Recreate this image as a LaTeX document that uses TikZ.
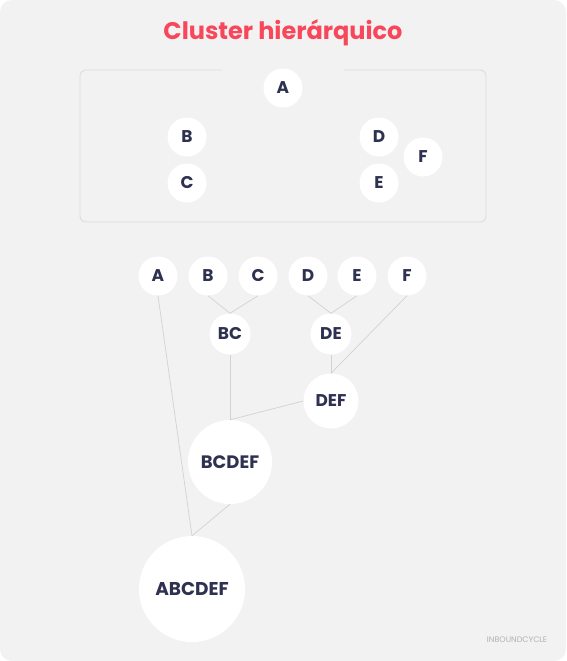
\documentclass[tikz,border=0pt]{standalone}
\usepackage{fontspec}
\setmainfont{Poppins}
\usepackage{xcolor}
\definecolor{panel}{HTML}{F2F2F2}
\definecolor{ink}{HTML}{2E3150}
\definecolor{titlered}{HTML}{F8465A}
\definecolor{edgegray}{HTML}{D2D2D2}
\definecolor{framegray}{HTML}{DCDCDC}
\tikzset{
  point/.style={circle, fill=white, inner sep=0pt, minimum size=39pt,
    text=ink, font=\fontsize{17}{17}\selectfont\bfseries},
  merged/.style={point, minimum size=#1},
  link/.style={draw=edgegray, line width=0.7pt},
}

\begin{document}
\begin{tikzpicture}[x=1pt, y=-1pt]
      % panel and frame
      \useasboundingbox (0,0) rectangle (566,661);
      \fill[panel, rounded corners=12pt] (0,0) rectangle (566,661);
      \draw[framegray, line width=0.9pt, rounded corners=6pt]
        (222,70) -- (80,70) -- (80,222) -- (486,222) -- (486,70) -- (344,70);
      \node (title) at (283,33) [text=titlered, font=\fontsize{24}{24}\selectfont\bfseries]
        {Cluster hierárquico};

      % points in the plane
      \node[point] (pA) at (283,88) {A};
      \node[point] (pB) at (187,137) {B};
      \node[point] (pC) at (187,183) {C};
      \node[point] (pD) at (379,137) {D};
      \node[point] (pE) at (379,183) {E};
      \node[point] (pF) at (423,157) {F};

      % dendrogram
      \node[point] (A) at (158,276) {A};
      \node[point] (B) at (208,276) {B};
      \node[point] (C) at (258,276) {C};
      \node[point] (D) at (308,276) {D};
      \node[point] (E) at (357,276) {E};
      \node[point] (F) at (407,276) {F};
      \node[merged=41pt] (BC) at (230,334) {BC};
      \node[merged=41pt] (DE) at (331,334) {DE};
      \node[merged=55pt] (DEF) at (331,401) {DEF};
      \node[merged=84pt, font=\fontsize{18}{18}\selectfont\bfseries] (BCDEF) at (230,462) {BCDEF};
      \node[merged=106pt, font=\fontsize{18.5}{18.5}\selectfont\bfseries] (ABCDEF) at (192,589) {ABCDEF};

      \draw[link] (B.south) -- (BC.north);
      \draw[link] (C.south) -- (BC.north);
      \draw[link] (D.south) -- (DE.north);
      \draw[link] (E.south) -- (DE.north);
      \draw[link] (DE.south) -- (DEF.north);
      \draw[link] (F.south) -- (DEF.north);
      \draw[link] (BC.south) -- (BCDEF.north);
      \draw[link] (DEF.west) -- (BCDEF.north);
      \draw[link] (A.south) -- (ABCDEF.north);
      \draw[link] (BCDEF.south) -- (ABCDEF.north);

      \node (logo) at (517,640) [text=black!30, font=\fontsize{8}{8}\selectfont] {INBOUNDCYCLE};
    \end{tikzpicture}
\end{document}
